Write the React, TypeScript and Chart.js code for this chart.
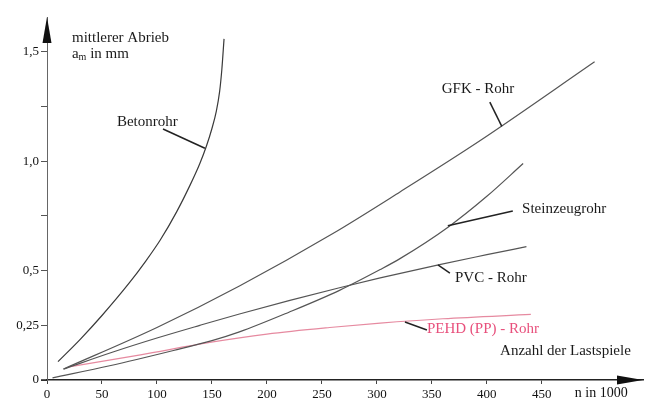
import React, { useEffect, useRef } from 'react';
import { Chart, registerables } from 'chart.js';

Chart.register(...registerables);

// ---- axes ----
const xTicks = [0, 50, 100, 150, 200, 250, 300, 350, 400, 450];
const yTicks = [0, 0.25, 0.5, 0.75, 1.0, 1.25, 1.5];
const yTickLabels = ['0', '0,25', '0,5', '', '1,0', '', '1,5'];
const xMax = 542;
const yMax = 1.66;

// ---- series (x in 1000 load cycles, y mean abrasion in mm) ----
const betonX = [10, 30, 50, 75, 90, 103, 118, 130, 139, 145, 150, 154, 157, 159, 161];
const betonY = [0.084, 0.185, 0.295, 0.445, 0.545, 0.64, 0.77, 0.89, 0.99, 1.07, 1.15, 1.23, 1.32, 1.42, 1.56];

const gfkX = [15, 100, 175, 260, 321, 394, 498];
const gfkY = [0.05, 0.24, 0.43, 0.67, 0.86, 1.095, 1.455];

const steinX = [5, 57, 115, 150, 175, 220, 266, 303, 321, 365, 400, 433];
const steinY = [0.01, 0.065, 0.135, 0.18, 0.22, 0.31, 0.41, 0.505, 0.555, 0.7, 0.84, 0.99];

const pvcX = [15, 60, 100, 139, 175, 220, 266, 303, 357, 400, 436];
const pvcY = [0.05, 0.128, 0.192, 0.25, 0.302, 0.363, 0.422, 0.467, 0.528, 0.573, 0.61];

const pehdX = [20, 85, 148, 200, 257, 303, 360, 440];
const pehdY = [0.06, 0.115, 0.172, 0.21, 0.24, 0.26, 0.28, 0.3];

const seriesNames = ['Betonrohr', 'GFK - Rohr', 'Steinzeugrohr', 'PVC - Rohr', 'PEHD (PP) - Rohr'];

// ---- annotation texts (placed in data coordinates) ----
const annotations = [
  { text: 'mittlerer Abrieb', x: 22.7, y: 1.565, color: '#1a1a1a' },
  { text: 'Betonrohr', x: 63.6, y: 1.18, color: '#1a1a1a' },
  { text: 'GFK - Rohr', x: 359, y: 1.33, color: '#1a1a1a' },
  { text: 'Steinzeugrohr', x: 432, y: 0.782, color: '#1a1a1a' },
  { text: 'PVC - Rohr', x: 371, y: 0.466, color: '#1a1a1a' },
  { text: 'PEHD (PP) - Rohr', x: 345.5, y: 0.233, color: '#e8507c' },
  { text: 'Anzahl der Lastspiele', x: 412, y: 0.133, color: '#1a1a1a' },
];
const leaders = [
  { x1: 105.5, y1: 1.148, x2: 143.6, y2: 1.06 },
  { x1: 402.7, y1: 1.271, x2: 413.6, y2: 1.16 },
  { x1: 423.6, y1: 0.773, x2: 364.5, y2: 0.705 },
  { x1: 355.5, y1: 0.526, x2: 366.4, y2: 0.489 },
  { x1: 325.5, y1: 0.265, x2: 345.5, y2: 0.229 },
];

const zip = (xs: number[], ys: number[]) => xs.map((x, i) => ({ x, y: ys[i] }));

const FONT = '"Liberation Serif", "Times New Roman", serif';

const decorPlugin = {
  id: 'decor',
  afterDraw(chart: any) {
    const { ctx, chartArea, scales } = chart;
    const xs = scales.x;
    const ys = scales.y;
    const px = (v: number) => xs.getPixelForValue(v);
    const py = (v: number) => ys.getPixelForValue(v);
    ctx.save();
    // arrow heads
    ctx.fillStyle = '#111';
    const x0 = px(0);
    const top = chartArea.top;
    ctx.beginPath();
    ctx.moveTo(x0, top);
    ctx.lineTo(x0 - 4.5, top + 26);
    ctx.lineTo(x0 + 4.5, top + 26);
    ctx.closePath();
    ctx.fill();
    const y0 = py(0);
    const right = chartArea.right;
    ctx.beginPath();
    ctx.moveTo(right, y0);
    ctx.lineTo(right - 26, y0 - 4.5);
    ctx.lineTo(right - 26, y0 + 4.5);
    ctx.closePath();
    ctx.fill();
    // short axis stub left of the origin
    ctx.strokeStyle = '#222';
    ctx.lineWidth = 1.5;
    ctx.beginPath();
    ctx.moveTo(x0 - 6, y0);
    ctx.lineTo(x0, y0);
    ctx.stroke();

    // leader lines
    ctx.strokeStyle = '#222';
    ctx.lineWidth = 1.5;
    leaders.forEach((l) => {
      ctx.beginPath();
      ctx.moveTo(px(l.x1), py(l.y1));
      ctx.lineTo(px(l.x2), py(l.y2));
      ctx.stroke();
    });

    // texts
    ctx.textBaseline = 'middle';
    ctx.textAlign = 'left';
    ctx.font = `15px ${FONT}`;
    annotations.forEach((a) => {
      ctx.fillStyle = a.color;
      ctx.fillText(a.text, px(a.x), py(a.y));
    });
    // a_m in mm
    const ax = px(22.7);
    const ay = py(1.49);
    ctx.fillStyle = '#1a1a1a';
    ctx.font = `15px ${FONT}`;
    ctx.fillText('a', ax, ay);
    let w = ctx.measureText('a').width;
    ctx.font = `10px ${FONT}`;
    ctx.fillText('m', ax + w, ay + 3);
    w += ctx.measureText('m').width;
    ctx.font = `15px ${FONT}`;
    ctx.fillText(' in mm', ax + w, ay);

    // x-axis unit
    ctx.font = `14px ${FONT}`;
    ctx.fillStyle = '#111';
    ctx.fillText('n in 1000', px(480), xs.top + 13);
    ctx.restore();
  },
};

export default function App() {
  const ref = useRef<HTMLCanvasElement>(null);
  useEffect(() => {
    const canvas = ref.current!;
    const line = (label: string, data: any[], color: string, width = 1.2) => ({
      label,
      data,
      borderColor: color,
      backgroundColor: color,
      borderWidth: width,
      pointRadius: 0,
      fill: false,
      cubicInterpolationMode: 'monotone' as const,
    });
    const chart = new Chart(canvas, {
      type: 'line',
      data: {
        datasets: [
          line(seriesNames[0], zip(betonX, betonY), '#3a3a3a'),
          line(seriesNames[1], zip(gfkX, gfkY), '#555'),
          line(seriesNames[2], zip(steinX, steinY), '#555'),
          line(seriesNames[3], zip(pvcX, pvcY), '#555'),
          line(seriesNames[4], zip(pehdX, pehdY), '#e68aa0'),
        ],
      },
      options: {
        responsive: false,
        animation: false,
        layout: { padding: { top: 17, right: 3, left: 0, bottom: 0 } },
        plugins: { legend: { display: false }, tooltip: { enabled: false } },
        scales: {
          x: {
            type: 'linear',
            min: 0,
            max: xMax,
            afterBuildTicks: (s: any) => {
              s.ticks = xTicks.map((v) => ({ value: v }));
            },
            afterFit: (s: any) => {
              s.height = 27;
            },
            ticks: {
              autoSkip: false,
              maxRotation: 0,
              padding: 3,
              color: '#111',
              font: { family: FONT, size: 13 },
              callback: (v: any) => String(v),
            },
            grid: { drawOnChartArea: false, tickLength: 4, tickColor: '#444' },
            border: { color: '#222', width: 1.5 },
          },
          y: {
            type: 'linear',
            min: 0,
            max: yMax,
            afterBuildTicks: (s: any) => {
              s.ticks = yTicks.map((v) => ({ value: v }));
            },
            afterFit: (s: any) => {
              s.width = 47;
            },
            ticks: {
              autoSkip: false,
              padding: 2,
              color: '#111',
              font: { family: FONT, size: 13 },
              callback: (_v: any, i: number) => yTickLabels[i],
            },
            grid: { drawOnChartArea: false, tickLength: 6, tickColor: '#555' },
            border: { color: '#666', width: 1 },
          },
        },
      },
      plugins: [decorPlugin],
    });
    return () => chart.destroy();
  }, []);
  return (
    <div style={{ position: 'fixed', left: 0, top: 0, width: 646, height: 407, background: '#fff' }}>
      <canvas ref={ref} width={646} height={407} style={{ display: 'block' }} />
    </div>
  );
}
